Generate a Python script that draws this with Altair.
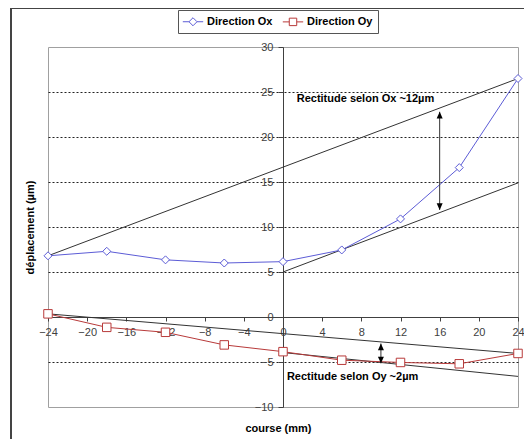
import altair as alt
import pandas as pd

# ---- data ----
course = [-24, -18, -12, -6, 0, 6, 12, 18, 24]
dir_ox = [6.8, 7.3, 6.35, 6.0, 6.15, 7.45, 10.9, 16.6, 26.5]
dir_oy = [0.35, -1.15, -1.7, -3.1, -3.85, -4.8, -5.05, -5.2, -4.05]
series_names = ["Direction Ox", "Direction Oy"]
series_keys = ["ox", "oy"]
series_colors = ["#5c5cd6", "#b83a3a"]

fit_ids = ["ox_haut", "ox_bas", "oy_haut", "oy_bas"]
fit_x1 = [-24, 0, -24, 0]
fit_y1 = [6.8, 5.0, 0.35, -3.95]
fit_x2 = [24, 24, 24, 24]
fit_y2 = [26.5, 14.9, -4.05, -6.6]

arrow_x = [16, 10]
arrow_top = [22.8, -2.95]
arrow_bottom = [11.9, -5.15]

note_text = ["Rectitude selon Ox ~12µm", "Rectitude selon Oy ~2µm"]
note_x = [1.4, 0.4]
note_y = [24.2, -6.7]

x_ticks = [-24, -20, -16, -12, -8, -4, 0, 4, 8, 12, 16, 20, 24]
y_ticks = [-10, -5, 0, 5, 10, 15, 20, 25, 30]

FONT = "Liberation Sans"

# ---- tables ----
n = len(course)
df_series = pd.DataFrame(
    {"x": course + course,
     "y": dir_ox + dir_oy,
     "key": [series_keys[0]] * n + [series_keys[1]] * n,
     "series": [series_names[0]] * n + [series_names[1]] * n}
)
df_fit = pd.DataFrame(
    {"x": fit_x1 + fit_x2, "y": fit_y1 + fit_y2, "id": fit_ids + fit_ids}
)
df_arrow = pd.DataFrame({"x": arrow_x, "y": arrow_top, "y2": arrow_bottom})
df_top = pd.DataFrame({"x": arrow_x, "y": arrow_top})
df_bottom = pd.DataFrame({"x": arrow_x, "y": arrow_bottom})
df_notes = pd.DataFrame({"x": note_x, "y": note_y, "text": note_text})

# ---- axes ----
x_axis = alt.Axis(
    values=x_ticks, offset=-90, grid=False, title="course (mm)",
    titleX=230, titleY=111, titleAlign="center", titleBaseline="middle",
    titleFont=FONT, titleFontSize=11, titleFontWeight="bold", titleColor="black",
    labelFont=FONT, labelFontSize=11, labelColor="#404040", labelFlush=False,
    labelOverlap=False, labelPadding=5, tickSize=4, tickColor="#404040",
    domainColor="#404040",
)
y_axis = alt.Axis(
    values=y_ticks, offset=-235, grid=True, gridDash=[2, 2], gridColor="#222222",
    gridOpacity={"condition": {"test": "datum.value == 0 || datum.value == 30 || datum.value == -10",
                               "value": 0}, "value": 1},
    title="déplacement (µm)", titleX=-253, titleY=180, titleAngle=270,
    titleAlign="center", titleBaseline="middle",
    titleFont=FONT, titleFontSize=11, titleFontWeight="bold", titleColor="black",
    labelFont=FONT, labelFontSize=11, labelColor="#404040", labelFlush=False,
    labelOverlap=False, labelPadding=5, tickSize=5, tickColor="#404040",
    domainColor="#404040",
)
X = alt.X("x:Q", scale=alt.Scale(domain=[-24, 24], nice=False, zero=False), axis=x_axis)
Y = alt.Y("y:Q", scale=alt.Scale(domain=[-10, 30], nice=False, zero=False), axis=y_axis)

color = alt.Color("key:N", scale=alt.Scale(domain=series_keys, range=series_colors), legend=None)

# ---- legend (line + marker symbols) ----
legend_paths = [
    "M-1.7,0H-0.67M0.67,0H1.7M0,-0.67L0.67,0L0,0.67L-0.67,0Z",
    "M-1.7,0H-0.62M0.62,0H1.7M-0.62,-0.62H0.62V0.62H-0.62Z",
]
legend = alt.Legend(
    title=None, orient="none", legendX=130, legendY=-37, direction="horizontal",
    strokeColor="#555555", fillColor="white", padding=5,
    labelFont=FONT, labelFontSize=11, labelFontWeight="bold", labelColor="black",
    symbolSize=144, symbolStrokeWidth=1, symbolOffset=3.5, labelOffset=7.5,
    columnPadding=7, symbolFillColor="white", symbolOpacity=1,
)

base = alt.Chart(df_series)

frame_left = alt.Chart(df_series).mark_rule(color="#444444", strokeWidth=1).encode(
    x=alt.value(-37), y=alt.value(-39), y2=alt.value(420))
frame_top = alt.Chart(df_series).mark_rule(color="#444444", strokeWidth=1).encode(
    x=alt.value(-37), x2=alt.value(500), y=alt.value(-39))

fit_lines = alt.Chart(df_fit).mark_line(color="#333333", strokeWidth=1).encode(
    x=X, y=Y, detail="id:N")

lines = base.mark_line(strokeWidth=1).encode(x=X, y=Y, color=color)

pts_ox = base.transform_filter(alt.datum.key == series_keys[0]).mark_point(
    shape="diamond", size=64, filled=False, fill="white", strokeWidth=1, opacity=1
).encode(x=X, y=Y, color=color)
pts_oy = base.transform_filter(alt.datum.key == series_keys[1]).mark_point(
    shape="square", size=72, filled=False, fill="white", strokeWidth=1, opacity=1
).encode(x=X, y=Y, color=color)

arrows = alt.Chart(df_arrow).mark_rule(color="#333333", strokeWidth=1).encode(
    x=X, y=Y, y2="y2:Q")
heads_up = alt.Chart(df_top).mark_point(
    shape="M0,0L-1,2.2L1,2.2Z", size=36, filled=True, color="black", opacity=1
).encode(x=X, y=Y)
heads_down = alt.Chart(df_bottom).mark_point(
    shape="M0,0L-1,-2.2L1,-2.2Z", size=36, filled=True, color="black", opacity=1
).encode(x=X, y=Y)

notes = alt.Chart(df_notes).mark_text(
    align="left", baseline="middle", font=FONT, fontSize=11, fontWeight="bold", color="black"
).encode(x=X, y=Y, text="text:N")

# layer with no visible marks that only provides the legend
legend_layer = base.transform_filter("false").mark_point(
    filled=False, size=144, strokeWidth=1, opacity=1
).encode(
    shape=alt.Shape("series:N", scale=alt.Scale(domain=series_names, range=legend_paths), legend=legend),
    stroke=alt.Stroke("series:N", scale=alt.Scale(domain=series_names, range=series_colors), legend=legend),
)

chart = alt.layer(
    frame_left, frame_top, fit_lines, lines, pts_ox, pts_oy,
    arrows, heads_up, heads_down, notes, legend_layer
).properties(
    width=470, height=360,
    padding={"left": 40, "top": 39, "right": 6, "bottom": 32},
    autosize=alt.AutoSizeParams(type="none"),
).configure_view(stroke="#a0a0a0", strokeWidth=1)

chart.save("out.html", embed_options={"renderer": "svg", "actions": False})
